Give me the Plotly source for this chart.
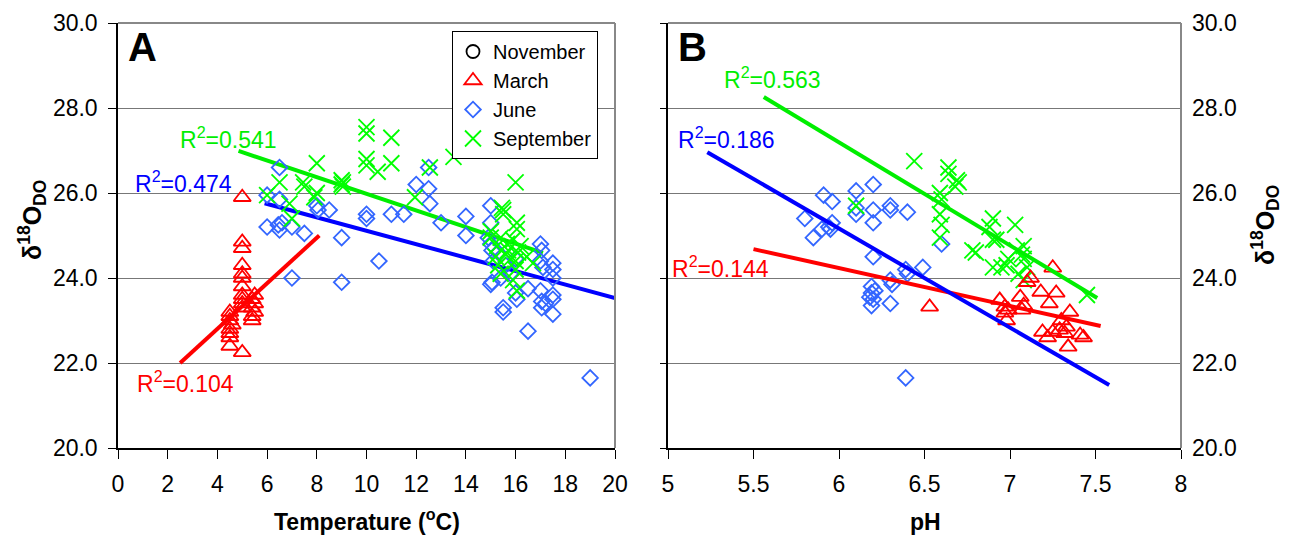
import plotly.graph_objects as go

# ---------------- Panel A: temperature vs d18O of dissolved oxygen ----------------
mar_temp = [4.5, 4.5, 4.5, 4.5, 4.5, 4.6, 4.5, 4.5,
            5.0, 5.0, 5.0, 5.0, 5.0, 5.0, 5.0, 5.0, 5.0, 5.0, 5.0, 5.0,
            5.4, 5.4, 5.4, 5.5, 5.5, 5.4, 5.5]
mar_d18o_a = [23.2, 23.0, 22.8, 22.6, 22.4, 22.9, 22.7, 23.1,
              25.9, 24.85, 24.7, 24.3, 24.1, 24.0, 23.8, 23.6, 23.4, 23.3, 23.5, 22.25,
              23.5, 23.3, 23.1, 23.4, 23.2, 23.0, 23.6]

jun_temp = [6.5, 6.0, 6.5, 6.0, 6.45, 6.5, 6.6, 7.0, 7.5, 8.0, 8.05, 8.5, 9.0, 10.0, 10.0,
            11.0, 11.5, 10.5, 7.0, 9.0, 12.0, 12.5, 12.5, 12.55, 13.0, 14.0, 14.0,
            15.0, 15.0, 14.9, 15.0, 15.05, 15.1, 15.05, 15.5, 16.0, 16.05, 16.5,
            17.0, 17.05, 17.0, 17.1, 17.5, 17.5, 17.5, 17.0, 17.5, 17.05, 17.5,
            15.0, 15.5, 16.5, 17.2, 17.05, 17.5, 19.0, 15.3, 15.6, 15.8, 16.0, 15.4]
jun_d18o_a = [26.6, 25.95, 25.85, 25.2, 25.25, 25.13, 25.3, 25.2, 25.05, 25.7, 25.6, 25.6, 24.95, 25.5, 25.4,
              25.5, 25.5, 24.4, 24.0, 23.9, 26.2, 26.6, 26.1, 25.75, 25.3, 25.45, 25.0,
              25.7, 25.3, 24.95, 24.8, 24.65, 24.4, 23.9, 23.2, 23.65, 23.5, 23.75,
              24.8, 24.65, 24.4, 24.25, 24.35, 24.2, 24.0, 23.7, 23.6, 23.45, 23.5,
              23.85, 23.3, 22.75, 23.4, 23.3, 23.15, 21.65, 24.6, 24.3, 24.1, 24.45, 24.0]

sep_temp = [6.0, 6.5, 6.9, 7.0, 7.45, 7.5, 7.9, 8.0, 8.0, 9.0, 9.05, 9.05, 9.0,
            10.0, 10.0, 10.0, 10.0, 10.45, 11.0, 11.0, 11.95, 12.55, 13.5,
            15.0, 15.0, 15.25, 15.4, 15.45, 15.5, 15.5, 15.65, 15.9, 16.0, 16.05, 16.05,
            16.1, 16.2, 16.45, 16.7, 15.4, 15.9, 16.05, 16.0, 15.2, 15.3, 15.7, 15.8, 16.0, 15.6]
sep_d18o_a = [25.95, 26.25, 25.75, 25.4, 26.25, 26.15, 25.9, 26.7, 26.0, 26.3, 26.25, 26.15, 26.2,
              27.55, 27.4, 26.8, 26.65, 26.5, 27.3, 26.7, 25.9, 26.6, 26.85,
              24.95, 25.1, 24.75, 24.95, 25.65, 25.5, 25.6, 24.8, 24.9, 26.25, 25.3, 25.15,
              24.6, 24.75, 24.5, 24.35, 24.1, 23.95, 23.7, 24.4, 24.5, 24.3, 24.65, 24.45, 24.2, 24.55]

# linear fits (end points) and their R2 values
fit_a_mar_x, fit_a_mar_y = [2.5, 8.1], [22.0, 25.0]
fit_a_jun_x, fit_a_jun_y = [5.9, 20.0], [25.76, 23.53]
fit_a_sep_x, fit_a_sep_y = [4.85, 17.1], [26.99, 24.59]
r2_a = {"mar": "0.104", "jun": "0.474", "sep": "0.541"}

# ---------------- Panel B: pH vs d18O of dissolved oxygen ----------------
mar_ph = [6.53, 6.94, 6.97, 6.99, 6.97, 6.98, 7.06, 7.08, 7.07, 7.12, 7.1, 7.18, 7.25,
          7.27, 7.23, 7.35, 7.3, 7.33, 7.29, 7.32, 7.25, 7.19, 7.22, 7.34, 7.41, 7.43]
mar_d18o_b = [23.32, 23.48, 23.32, 23.25, 23.18, 23.0, 23.55, 23.36, 23.25, 24.0, 23.9, 23.67, 24.24,
              23.65, 23.4, 23.2, 23.0, 22.85, 22.78, 22.7, 22.73, 22.73, 22.6, 22.38, 22.66, 22.6]

jun_ph = [5.8, 5.91, 5.96, 5.85, 5.9, 5.94, 5.96, 5.95, 6.1, 6.1, 6.1, 6.2, 6.2, 6.2, 6.2,
          6.19, 6.19, 6.2, 6.19, 6.3, 6.3, 6.4, 6.6, 6.49, 6.39, 6.4, 6.3, 6.31, 6.3, 6.39, 6.21, 6.18]
jun_d18o_b = [25.4, 25.95, 25.8, 24.95, 25.15, 25.2, 25.3, 25.15, 26.05, 25.65, 25.5, 26.2, 25.6, 25.3, 24.5,
              23.8, 23.65, 23.5, 23.35, 25.7, 25.6, 25.55, 24.8, 24.25, 24.2, 24.1, 23.95, 23.85, 23.4, 21.65, 23.7, 23.55]

sep_ph = [6.1, 6.44, 6.64, 6.64, 6.69, 6.7, 6.68, 6.59, 6.6, 6.59, 6.6, 6.59, 6.8, 6.78, 6.9, 6.88,
          7.03, 6.92, 6.9, 6.9, 6.99, 6.98, 7.04, 7.07, 7.08, 7.08, 7.05, 7.08, 7.1, 7.45, 6.95]
sep_d18o_b = [25.7, 26.75, 26.6, 26.45, 26.3, 26.25, 26.15, 26.0, 25.85, 25.5, 25.25, 24.95, 24.6, 24.65, 25.4, 25.2,
              25.25, 24.9, 24.9, 24.25, 24.45, 24.3, 24.65, 24.55, 24.75, 24.45, 24.1, 23.95, 24.25, 23.6, 24.25]

fit_b_mar_x, fit_b_mar_y = [5.5, 7.53], [24.68, 22.87]
fit_b_jun_x, fit_b_jun_y = [5.23, 7.58], [26.96, 21.48]
fit_b_sep_x, fit_b_sep_y = [5.56, 7.51], [28.26, 23.53]
r2_b = {"mar": "0.144", "jun": "0.186", "sep": "0.563"}

y_ticks = [20, 22, 24, 26, 28, 30]

RED, BLUE_M, GREEN, BLUE_L = "#FF0000", "#3366FF", "#00FF00", "#0000FF"
GREEN_L = "#00EE00"
FONT = "Liberation Sans, Arial, sans-serif"

fig = go.Figure()

def add_series(x, y, xa, ya, name, symbol, color, size, show):
    fig.add_trace(go.Scatter(
        x=x, y=y, xaxis=xa, yaxis=ya, mode="markers", name=name, showlegend=show,
        marker=dict(symbol=symbol, size=size, color=color, line=dict(color=color, width=1.8))))

def add_fit(x, y, xa, ya, color):
    fig.add_trace(go.Scatter(x=x, y=y, xaxis=xa, yaxis=ya, mode="lines", showlegend=False,
                             line=dict(color=color, width=4), hoverinfo="skip"))

# legend-only entry for the November survey
fig.add_trace(go.Scatter(x=[None], y=[None], xaxis="x", yaxis="y", mode="markers", name="November",
                         marker=dict(symbol="circle-open", size=13, color="black", line=dict(width=1.8))))

add_fit(fit_a_mar_x, fit_a_mar_y, "x", "y", RED)
add_fit(fit_a_jun_x, fit_a_jun_y, "x", "y", BLUE_L)
add_fit(fit_a_sep_x, fit_a_sep_y, "x", "y", GREEN_L)
add_series(mar_temp, mar_d18o_a, "x", "y", "March", "triangle-up-open", RED, 15, True)
add_series(jun_temp, jun_d18o_a, "x", "y", "June", "diamond-open", BLUE_M, 12, True)
add_series(sep_temp, sep_d18o_a, "x", "y", "September", "x-thin-open", GREEN, 16, True)

add_series(jun_ph, jun_d18o_b, "x2", "y2", "June", "diamond-open", BLUE_M, 12, False)
add_series(sep_ph, sep_d18o_b, "x2", "y2", "September", "x-thin-open", GREEN, 16, False)
add_series(mar_ph, mar_d18o_b, "x2", "y2", "March", "triangle-up-open", RED, 15, False)
add_fit(fit_b_mar_x, fit_b_mar_y, "x2", "y2", RED)
add_fit(fit_b_jun_x, fit_b_jun_y, "x2", "y2", BLUE_L)
add_fit(fit_b_sep_x, fit_b_sep_y, "x2", "y2", GREEN_L)

W, H = 1299, 544
ydom = [1 - 448 / H, 1 - 23 / H]
tick_font = dict(family=FONT, size=23, color="black")

common_x = dict(ticks="outside", ticklen=9, tickcolor="black", showline=True, linecolor="black",
                linewidth=1.5, showgrid=False, zeroline=False, tickfont=tick_font,
                automargin=False, ticklabelstandoff=6)
common_y = dict(range=[20, 30], tickvals=y_ticks, tickformat=".1f", showgrid=True,
                gridcolor="#777777", gridwidth=1, zeroline=False, tickfont=tick_font,
                automargin=False)

fig.update_layout(
    width=W, height=H, margin=dict(l=0, r=0, t=0, b=0, autoexpand=False),
    paper_bgcolor="white", plot_bgcolor="white",
    font=dict(family=FONT, color="black"),
    xaxis=dict(domain=[118 / W, 615 / W], range=[0, 20], dtick=2, anchor="y", **common_x),
    yaxis=dict(domain=ydom, anchor="x", ticks="outside", ticklen=8, tickcolor="black",
               showline=True, linecolor="black", linewidth=1.5, ticklabelstandoff=6, **common_y),
    xaxis2=dict(domain=[668 / W, 1181 / W], range=[5, 8], dtick=0.5, anchor="y2", **common_x),
    yaxis2=dict(domain=ydom, anchor="x2", ticks="outside", ticklen=6, tickcolor="black",
                showline=True, linecolor="black", linewidth=1.5, showticklabels=False, **common_y),
    yaxis3=dict(domain=ydom, anchor="x2", overlaying="y2", side="right", ticks="",
                showline=False, range=[20, 30], tickvals=y_ticks, tickformat=".1f",
                showgrid=False, zeroline=False, tickfont=tick_font, ticklabelstandoff=10,
                automargin=False),
    legend=dict(x=452 / W, y=1 - 31 / H, xanchor="left", yanchor="top",
                bgcolor="white", bordercolor="black", borderwidth=1,
                font=dict(family=FONT, size=20, color="black"), itemwidth=30),
)

# invisible trace to activate the right-hand tick axis
fig.add_trace(go.Scatter(x=[None], y=[None], xaxis="x2", yaxis="y3", showlegend=False))

# plot-area frames (top and right edges)
for xr, yr in (("x domain", "y domain"), ("x2 domain", "y2 domain")):
    fig.add_shape(type="line", xref=xr, yref=yr, x0=0, x1=1, y0=1, y1=1,
                  line=dict(color="#888888", width=2))
    fig.add_shape(type="line", xref=xr, yref=yr, x0=1, x1=1, y0=0, y1=1,
                  line=dict(color="#888888", width=2))

ann = []
def label(text, x, y, xref, yref, color, size=23, xanchor="left", **kw):
    ann.append(dict(text=text, x=x, y=y, xref=xref, yref=yref, showarrow=False,
                    xanchor=xanchor, yanchor="middle",
                    font=dict(family=FONT, size=size, color=color), **kw))

# R2 labels
label("R<sup>2</sup>=" + r2_a["sep"], 2.4, 27.3, "x", "y", GREEN_L)
label("R<sup>2</sup>=" + r2_a["jun"], 0.6, 26.25, "x", "y", BLUE_L)
label("R<sup>2</sup>=" + r2_a["mar"], 0.68, 21.55, "x", "y", RED)
label("R<sup>2</sup>=" + r2_b["sep"], 5.316, 28.7, "x2", "y2", GREEN_L)
label("R<sup>2</sup>=" + r2_b["jun"], 5.047, 27.3, "x2", "y2", BLUE_L)
label("R<sup>2</sup>=" + r2_b["mar"], 5.012, 24.25, "x2", "y2", RED)

# panel letters
label("<b>A</b>", 126 / W, 1 - 47 / H, "paper", "paper", "black", size=40)
label("<b>B</b>", 676 / W, 1 - 47 / H, "paper", "paper", "black", size=40)

# axis titles
label("<b>Temperature (<sup>o</sup>C)</b>", 367 / W, 1 - 520 / H, "paper", "paper", "black",
      size=23, xanchor="center")
label("<b>pH</b>", 925 / W, 1 - 522 / H, "paper", "paper", "black", size=23, xanchor="center")
label("<b>δ<sup>18</sup>O<sub>DO</sub></b>", 32 / W, 1 - 220 / H, "paper", "paper", "black",
      size=25, xanchor="center", textangle=-90)
label("<b>δ<sup>18</sup>O<sub>DO</sub></b>", 1265 / W, 1 - 225 / H, "paper", "paper", "black",
      size=25, xanchor="center", textangle=-90)

fig.update_layout(annotations=ann)
fig.write_html("out.html")
